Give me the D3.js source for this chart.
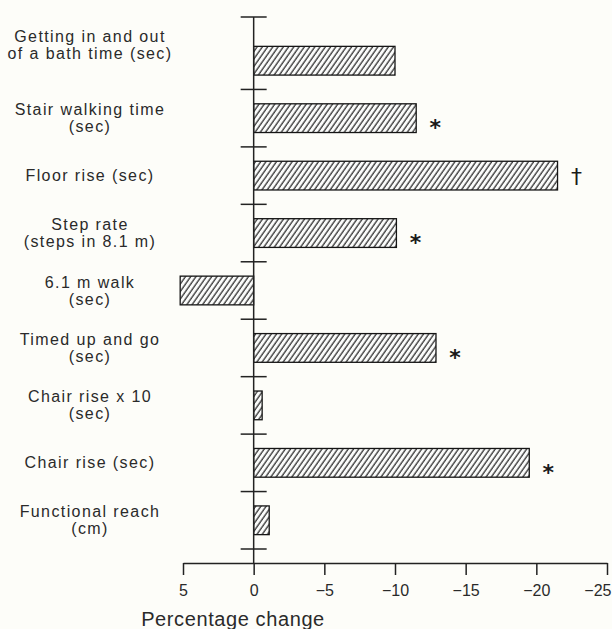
<!DOCTYPE html>
<html>
<head>
<meta charset="utf-8">
<script src="https://cdn.jsdelivr.net/npm/d3@7"></script>
<style>
  html, body { margin: 0; padding: 0; background: #fdfdf9; }
  svg { display: block; }
</style>
</head>
<body>
<script>
// Functional performance measures, percentage change after the programme
const categories = [
  "Getting in and out\nof a bath time (sec)",
  "Stair walking time\n(sec)",
  "Floor rise (sec)",
  "Step rate\n(steps in 8.1 m)",
  "6.1 m walk\n(sec)",
  "Timed up and go\n(sec)",
  "Chair rise x 10\n(sec)",
  "Chair rise (sec)",
  "Functional reach\n(cm)"
];
const percentChange = [-10.0, -11.5, -21.5, -10.1, 5.2, -12.9, -0.6, -19.5, -1.1];
const significance = ["", "*", "\u2020", "*", "", "*", "", "*", ""];
const xTicks = [5, 0, -5, -10, -15, -20, -25];
const xTitle = "Percentage change";

const W = 612, H = 629;
const ink = "#222";

const svg = d3.select("body").append("svg")
  .attr("width", W).attr("height", H);

svg.append("rect").attr("width", W).attr("height", H).attr("fill", "#fdfdf9");

// Hatch for bar fills: thin "/" strokes
const defs = svg.append("defs");
const pat = defs.append("pattern")
  .attr("id", "hatch")
  .attr("patternUnits", "userSpaceOnUse")
  .attr("width", 4.3).attr("height", 10)
  .attr("patternTransform", "rotate(35)");
pat.append("rect").attr("width", 4.3).attr("height", 10).attr("fill", "#fbfcfb");
pat.append("line")
  .attr("x1", 1).attr("y1", 0).attr("x2", 1).attr("y2", 10)
  .attr("stroke", "#2a2a2a").attr("stroke-width", 1.25);

// Scales
const x = d3.scaleLinear().domain([5, -25]).range([183, 607]);
const y = d3.scaleBand().domain(categories).range([32, 549])
  .paddingInner(0.5).paddingOuter(0.25);
const axisY = 563;

// Bars
svg.append("g").selectAll("rect")
  .data(categories)
  .join("rect")
  .attr("x", (d, i) => Math.min(x(0), x(percentChange[i])))
  .attr("y", d => y(d))
  .attr("width", (d, i) => Math.abs(x(percentChange[i]) - x(0)))
  .attr("height", y.bandwidth())
  .attr("fill", "url(#hatch)")
  .attr("stroke", "#151515")
  .attr("stroke-width", 1.3);

// Vertical zero line with category separators
const half = (y.step() - y.bandwidth()) / 2;
const vAxis = svg.append("g").attr("stroke", ink).attr("stroke-width", 1.5);
const topY = y.range()[0] - 15;
vAxis.append("line")
  .attr("x1", x(0)).attr("x2", x(0))
  .attr("y1", topY).attr("y2", axisY);
const sepYs = [topY].concat(categories.map(d => y(d) + y.bandwidth() + half));
vAxis.selectAll("line.sep")
  .data(sepYs)
  .join("line")
  .attr("class", "sep")
  .attr("x1", x(0) - 13).attr("x2", x(0) + 13)
  .attr("y1", d => d).attr("y2", d => d);

// Bottom axis
const xAxis = d3.axisBottom(x)
  .tickValues(xTicks)
  .tickSize(12)
  .tickSizeOuter(0)
  .tickPadding(10)
  .tickFormat(d3.format("d"));
const gx = svg.append("g")
  .attr("transform", `translate(0,${axisY})`)
  .call(xAxis);
gx.select(".domain").attr("stroke", ink).attr("stroke-width", 1.5);
gx.selectAll(".tick line").attr("stroke", ink).attr("stroke-width", 1.5);
gx.selectAll(".tick text")
  .attr("fill", "#2a2a2a")
  .style("font-family", "'Liberation Sans', Arial, sans-serif")
  .style("font-size", "16px");
// keep the last label inside the right edge
gx.selectAll(".tick text")
  .filter(d => d === xTicks[xTicks.length - 1])
  .attr("text-anchor", "end")
  .attr("dx", 4);

svg.append("text")
  .attr("x", 233).attr("y", 626)
  .attr("text-anchor", "middle")
  .attr("fill", "#2a2a2a")
  .style("font-family", "'Liberation Sans', Arial, sans-serif")
  .style("font-size", "20px")
  .style("letter-spacing", "0.6px")
  .text(xTitle);

// Category labels (the top one sits up against the end of the axis)
const lineH = 17;
const labels = svg.append("g")
  .attr("fill", "#2a2a2a")
  .style("font-family", "'Liberation Sans', Arial, sans-serif")
  .style("font-size", "16px")
  .style("letter-spacing", "1.4px");
categories.forEach((cat, i) => {
  const lines = cat.split("\n");
  const cy = y(cat) + y.bandwidth() / 2 - (i === 0 ? 16 : 0);
  const first = cy - (lines.length - 1) * lineH / 2 + 5.5;
  const t = labels.append("text").attr("text-anchor", "middle");
  lines.forEach((ln, j) => {
    t.append("tspan").attr("x", 90).attr("y", first + j * lineH).text(ln);
  });
});

// Significance markers: bold asterisks, plain dagger
svg.append("g").selectAll("text")
  .data(categories)
  .join("text")
  .attr("x", (d, i) => x(percentChange[i]) + 19)
  .attr("y", (d, i) => y(d) + y.bandwidth() / 2 + (significance[i] === "*" ? 17 : 8))
  .attr("text-anchor", "middle")
  .attr("fill", "#1a1a1a")
  .style("font-family", "'DejaVu Sans', sans-serif")
  .style("font-weight", (d, i) => significance[i] === "*" ? "bold" : "normal")
  .style("font-size", "22px")
  .text((d, i) => significance[i]);
</script>
</body>
</html>
